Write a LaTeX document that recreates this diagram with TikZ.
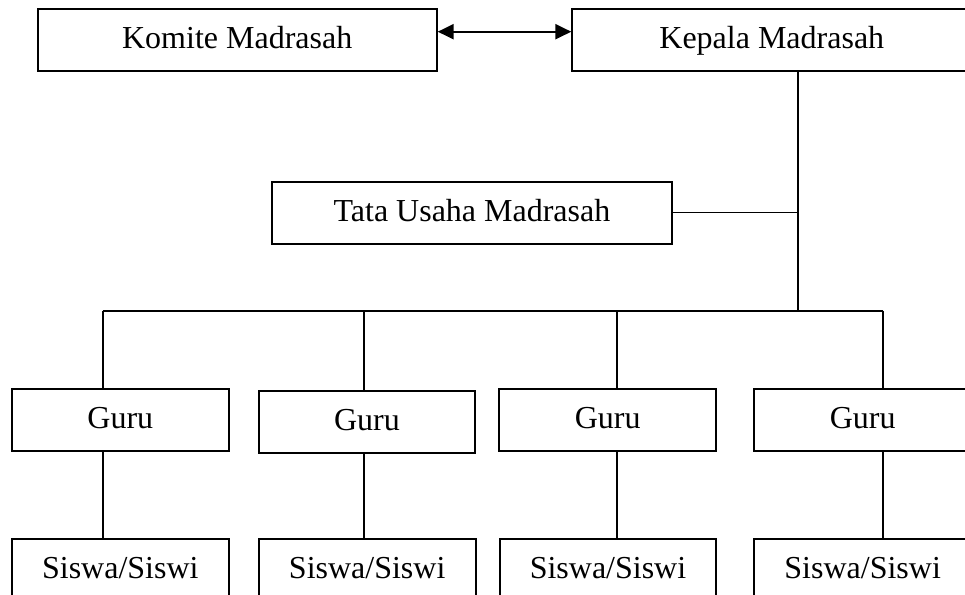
\documentclass[tikz,border=0pt]{standalone}
\usepackage{fontspec}
\setmainfont{Liberation Serif}
\usetikzlibrary{arrows.meta}
\begin{document}
\begin{tikzpicture}[x=1pt,y=-1pt,
  box/.style={draw, line width=2pt, inner sep=0pt, minimum height=62pt,
    text height=24pt, text depth=7pt,
    font=\fontsize{32}{38}\selectfont},
  bigbox/.style={box, minimum width=399pt},
  smallbox/.style={box, minimum width=216.7pt},
  link/.style={line width=1.7pt},
  dual/.style={line width=2.2pt, {Triangle[length=16pt,width=15pt]}-{Triangle[length=16pt,width=15pt]}}]
\useasboundingbox (0,0) rectangle (965,594);
\clip (0,0) rectangle (965,594);
\fill[white] (0,0) rectangle (965,594);

\node[bigbox] (komite) at (237.2,40.15) {Komite Madrasah};
\node[bigbox] (kepala) at (771.8,40.15) {Kepala Madrasah};
\node[box, minimum width=399.5pt] (tata) at (471.95,212.5) {Tata Usaha Madrasah};

\node[smallbox] (g1) at (120.35,419.6) {Guru};
\node[smallbox] (g2) at (367.0,421.5) {Guru};
\node[smallbox] (g3) at (607.65,419.65) {Guru};
\node[smallbox] (g4) at (862.65,419.7) {Guru};

\node[smallbox] (s1) at (120.35,569.7) {Siswa/Siswi};
\node[smallbox] (s2) at (367.2,569.7) {Siswa/Siswi};
\node[smallbox] (s3) at (608.0,569.7) {Siswa/Siswi};
\node[smallbox] (s4) at (862.65,569.7) {Siswa/Siswi};

\coordinate (tj) at (798.3,310.7);
\coordinate (h1) at (102.7,310.7);
\coordinate (h2) at (364.0,310.7);
\coordinate (h3) at (616.7,310.7);
\coordinate (h4) at (882.7,310.7);

\draw[dual] ([yshift=8.45pt]komite.east) -- ([yshift=8.45pt]kepala.west);

\draw[link] (kepala.south -| tj) -- (tj);
\draw[link] (tata.east) -- (tata.east -| tj);
\draw[link] (h1) -- (h4);

\draw[link] (h1) -- (g1.north -| h1);
\draw[link] (h2) -- (g2.north -| h2);
\draw[link] (h3) -- (g3.north -| h3);
\draw[link] (h4) -- (g4.north -| h4);

\draw[link] (g1.south -| h1) -- (s1.north -| h1);
\draw[link] (g2.south -| h2) -- (s2.north -| h2);
\draw[link] (g3.south -| h3) -- (s3.north -| h3);
\draw[link] (g4.south -| h4) -- (s4.north -| h4);
\end{tikzpicture}
\end{document}
